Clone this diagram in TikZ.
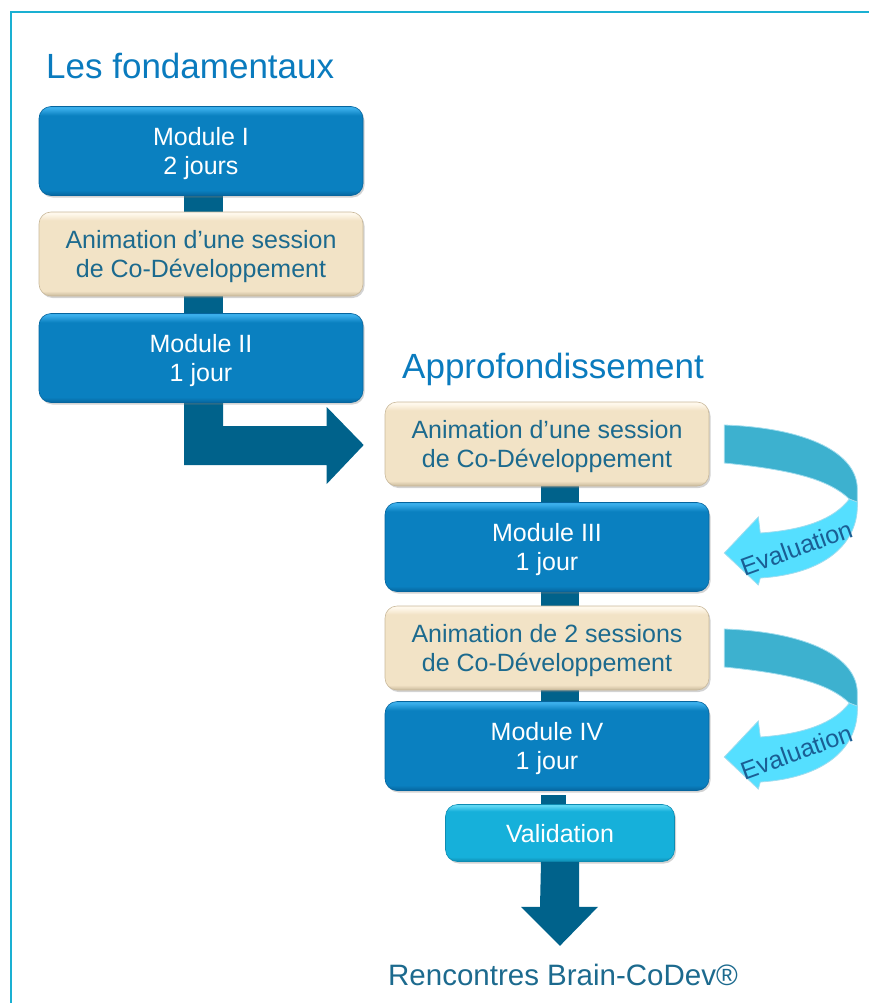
\documentclass[tikz,border=0pt]{standalone}
\usepackage{fontspec}
\setmainfont{Liberation Sans}
\usetikzlibrary{shadows,calc,backgrounds}
\definecolor{framec}{HTML}{1AB0D2}
\definecolor{titlec}{HTML}{0A7BBE}
\definecolor{darktext}{HTML}{1C6A8E}
\definecolor{barc}{HTML}{00628B}
\definecolor{modtop}{HTML}{3AAEEA}
\definecolor{modmid}{HTML}{0A80C0}
\definecolor{modbot}{HTML}{06659E}
\definecolor{begtop}{HTML}{FFF8EC}
\definecolor{begmid}{HTML}{F2E3C6}
\definecolor{begbot}{HTML}{C9B99B}
\definecolor{valtop}{HTML}{60D8F4}
\definecolor{valmid}{HTML}{16B0DA}
\definecolor{valbot}{HTML}{0E8CB2}
\definecolor{evdark}{HTML}{3DB1CF}
\definecolor{evlight}{HTML}{55DFFF}
\definecolor{evedge}{HTML}{A0DCEE}
\definecolor{evtext}{HTML}{1A5E94}
\pgfdeclareverticalshading{modshade}{100bp}{color(0bp)=(modbot); color(25bp)=(modbot); color(28bp)=(modmid); color(70bp)=(modmid); color(74bp)=(modtop); color(100bp)=(modtop)}
\pgfdeclareverticalshading{begshade}{100bp}{color(0bp)=(begbot); color(25bp)=(begbot); color(28bp)=(begmid); color(70bp)=(begmid); color(74bp)=(begtop); color(100bp)=(begtop)}
\pgfdeclareverticalshading{valshade}{100bp}{color(0bp)=(valbot); color(25bp)=(valbot); color(29bp)=(valmid); color(69bp)=(valmid); color(74bp)=(valtop); color(100bp)=(valtop)}
\newcommand\fsbox{\fontsize{25}{29.5}\selectfont}
\newcommand\fstitle{\fontsize{35}{40}\selectfont}
\newcommand\fsend{\fontsize{29.5}{32}\selectfont}
\begin{document}
\begin{tikzpicture}[x=1pt,y=-1pt,
  boxbase/.style={rounded corners=12pt, inner sep=0pt, align=center, font=\fsbox,
    text depth=0pt,
    drop shadow={shadow xshift=1.5pt, shadow yshift=-2pt, opacity=0.35}},
  modbox/.style={boxbase, shading=modshade, draw=modbot, line width=0.6pt,
    minimum width=324pt, minimum height=89pt, text=white},
  begbox/.style={boxbase, shading=begshade, draw=begbot, line width=0.6pt,
    minimum width=324pt, minimum height=84pt, text=darktext},
  valbox/.style={boxbase, shading=valshade, draw=valbot, line width=0.6pt,
    minimum width=229pt, minimum height=57pt, text=white},
  titletext/.style={font=\fstitle, text=titlec, inner sep=0pt, anchor=base west},
  evtext/.style={font=\fsbox, text=evtext, inner sep=0pt},
  evd/.style={fill=evdark, draw=evedge, line width=0.8pt},
  evl/.style={fill=evlight, draw=evedge, line width=0.8pt}]
\useasboundingbox (0,0) rectangle (868,1003);
% frame
\draw[framec, line width=2pt] (11,1010) -- (11,12) -- (875,12);
% titles
\node[titletext] (t1) at (46,79) {Les fondamentaux};
\node[titletext] (t2) at (402,378) {Approfondissement};
% left column
\node[modbox] (m1) at (201,151) {Module I\\2 jours};
\node[begbox] (a1) at (201,254) {Animation d’une session\\de Co-Développement};
\node[modbox] (m2) at (201,358) {Module II\\1 jour};
% right column
\node[begbox] (a2) at (547,444) {Animation d’une session\\de Co-Développement};
\node[modbox] (m3) at (547,547) {Module III\\1 jour};
\node[begbox] (a3) at (547,648) {Animation de 2 sessions\\de Co-Développement};
\node[modbox] (m4) at (547,746) {Module IV\\1 jour};
\node[valbox] (v) at (560,833) {Validation};
\node[font=\fsend, text=darktext, inner sep=0pt, anchor=base] (r) at (563,985) {Rencontres Brain-CoDev®};
% connectors
\begin{scope}[on background layer]
\fill[barc] ([xshift=-17]m1.south) rectangle ([xshift=22]a1.north);
\fill[barc] ([xshift=-17]a1.south) rectangle ([xshift=22]m2.north);
\fill[barc] ([xshift=-6]a2.south) rectangle ([xshift=32]m3.north);
\fill[barc] ([xshift=-6]m3.south) rectangle ([xshift=32]a3.north);
\fill[barc] ([xshift=-6]a3.south) rectangle ([xshift=32]m4.north);
\fill[barc] ([xshift=-19]v.north) rectangle ([xshift=19,yshift=-4]m4.south);
\fill[barc] ([xshift=-17]m2.south) -- ([xshift=22]m2.south) |- ($(a2.west)+(-58,-18)$)
  -- ++(0,-19) -- ($(a2.west)+(-21,1)$) -- ($(a2.west)+(-58,40)$) -- ++(0,-19)
  -| ([xshift=-17]m2.south) -- cycle;
\end{scope}
\coordinate (tip) at ($(v.south)+(0,84)$);
\fill[barc] ([xshift=-19]v.south) -- ([xshift=19]v.south) -- ++(0,45) -- ++(19,0)
  -- (tip) -- ++(-39,-39) -- ++(19,0) -- cycle;
% evaluation arrows
\begin{scope}[shift={(a2.east)}]
\filldraw[evd] (15,-19) .. controls (100,-16) and (148,10) .. (148,45) -- (148,62)
  -- (140,55) .. controls (120,36) and (85,26) .. (15,19) -- cycle;
\filldraw[evl] (148,58) .. controls (150,100) and (115,130) .. (51,134) -- (49,141)
  -- (15,109) -- (49,73) -- (51,89) .. controls (95,86) and (125,75) .. (140,55) -- cycle;
\node[evtext, rotate=20] (e1) at (87,104) {Evaluation};
\end{scope}
\begin{scope}[shift={(a3.east)}]
\filldraw[evd] (15,-19) .. controls (100,-16) and (148,10) .. (148,45) -- (148,62)
  -- (140,55) .. controls (120,36) and (85,26) .. (15,19) -- cycle;
\filldraw[evl] (148,58) .. controls (150,100) and (115,130) .. (51,134) -- (49,141)
  -- (15,109) -- (49,73) -- (51,89) .. controls (95,86) and (125,75) .. (140,55) -- cycle;
\node[evtext, rotate=20] (e2) at (87,104) {Evaluation};
\end{scope}
\end{tikzpicture}
\end{document}
